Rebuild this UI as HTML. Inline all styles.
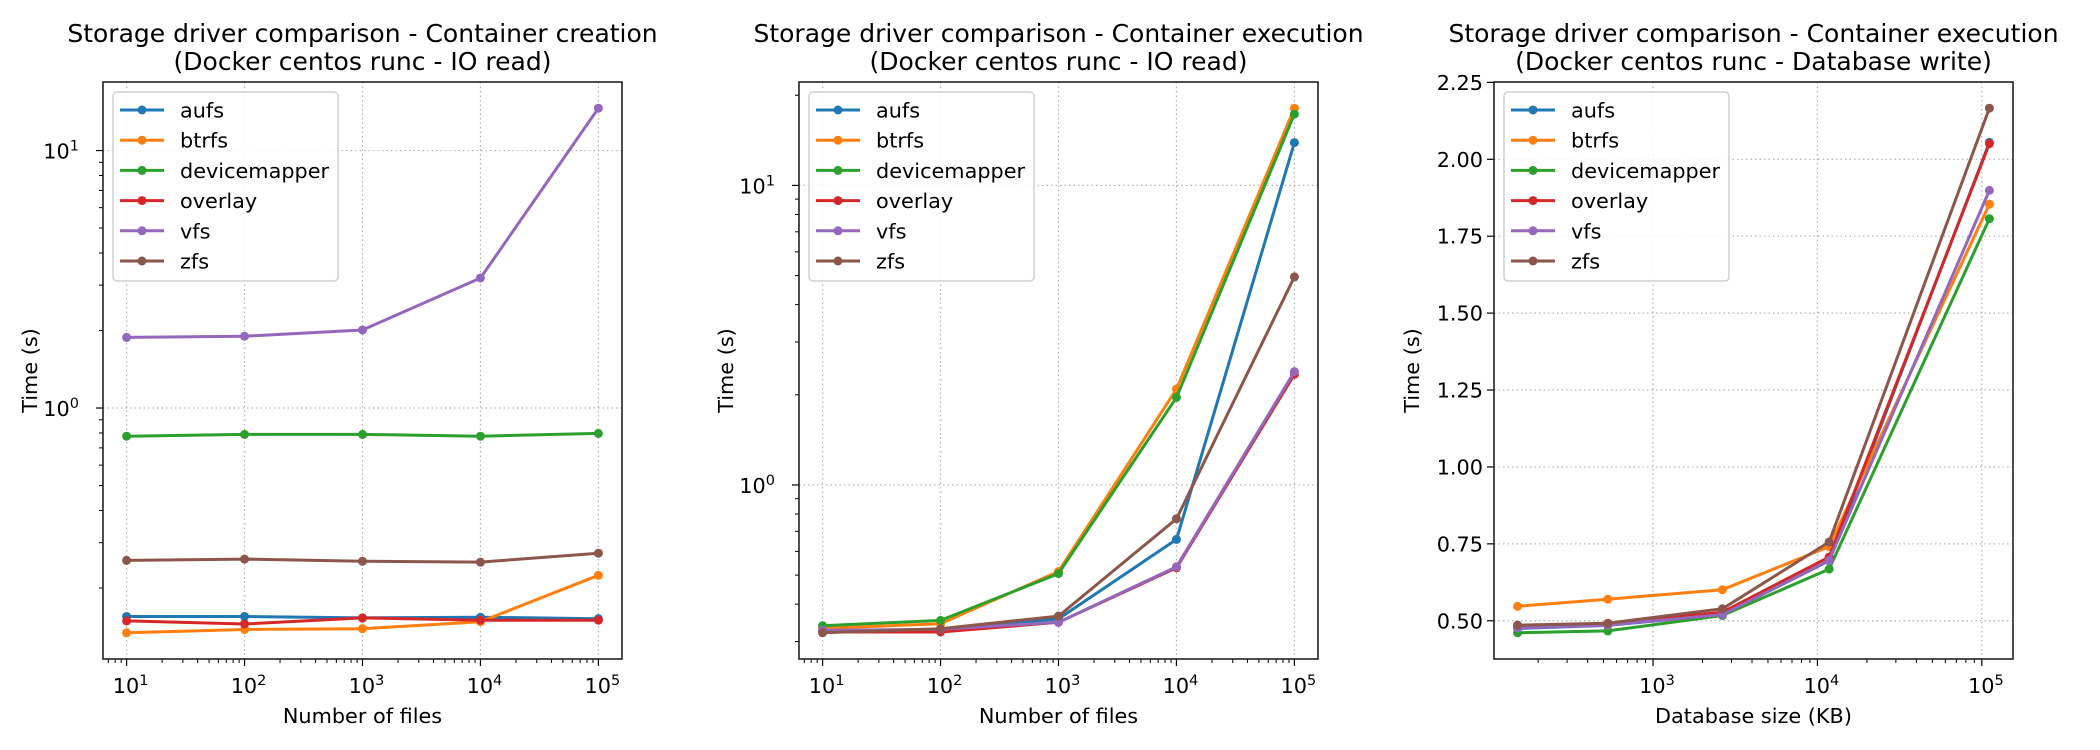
<!DOCTYPE html>
<html><head><meta charset="utf-8">
<style>
html,body{margin:0;padding:0;background:#fff;}
svg{display:block;font-family:"DejaVu Sans","Liberation Sans",sans-serif;}
</style></head>
<body>
<svg id="fig" width="2100" height="750" viewBox="0 0 2100 750" xmlns="http://www.w3.org/2000/svg"></svg>
<script>
const seriesNames = ["aufs","btrfs","devicemapper","overlay","vfs","zfs"];
const seriesColors = ["#1f77b4","#ff7f0e","#2ca02c","#d62728","#9467bd","#8c564b"];

// Panel 1: Container creation (IO read)
const p1X = [10,100,1000,10000,100000];
const p1Aufs = [0.155,0.155,0.153,0.154,0.152];
const p1Btrfs = [0.134,0.138,0.139,0.148,0.224];
const p1Dm = [0.777,0.79,0.79,0.777,0.797];
const p1Overlay = [0.149,0.145,0.153,0.150,0.150];
const p1Vfs = [1.88,1.90,2.01,3.2,14.6];
const p1Zfs = [0.256,0.259,0.254,0.252,0.273];

// Panel 2: Container execution (IO read)
const p2X = [10,100,1000,10000,100000];
const p2Aufs = [0.326,0.328,0.357,0.658,13.9];
const p2Btrfs = [0.332,0.344,0.514,2.09,18.1];
const p2Dm = [0.339,0.353,0.506,1.96,17.3];
const p2Overlay = [0.323,0.323,0.348,0.529,2.34];
const p2Vfs = [0.327,0.330,0.348,0.533,2.39];
const p2Zfs = [0.321,0.331,0.365,0.771,4.95];

// Panel 3: Container execution (Database write)
const p3X = [150,531,2642,11780,111200];
const p3Aufs = [0.475,0.485,0.52,0.695,2.055];
const p3Btrfs = [0.547,0.570,0.601,0.741,1.854];
const p3Dm = [0.461,0.467,0.517,0.668,1.807];
const p3Overlay = [0.483,0.491,0.528,0.707,2.051];
const p3Vfs = [0.477,0.486,0.520,0.696,1.899];
const p3Zfs = [0.486,0.492,0.539,0.756,2.166];

const p3YTicks = ["0.50","0.75","1.00","1.25","1.50","1.75","2.00","2.25"];
const logTickExps = [1,2,3,4,5];

const NS="http://www.w3.org/2000/svg";
const fig=document.getElementById('fig');
function mk(tag,attrs,parent){const e=document.createElementNS(NS,tag);for(const k in attrs)e.setAttribute(k,attrs[k]);(parent||fig).appendChild(e);return e;}

function extent(arrs,log){let mn=Infinity,mx=-Infinity;arrs.forEach(a=>a.forEach(v=>{const t=log?Math.log10(v):v;mn=Math.min(mn,t);mx=Math.max(mx,t);}));const m=(mx-mn)*0.05;return [mn-m,mx+m];}

function supText(g,x,y,base,exp,anchor,name){
  const t=mk('text',{x:x,y:y,'font-size':20.8,'text-anchor':anchor,fill:'#000'},g);
  
  
  t.appendChild(document.createTextNode(base));
  const s=mk('tspan',{dy:-8,'font-size':14.5},t);s.textContent=exp;
  return t;
}

function panel(idx,left,titleA,titleB,xlabel,xs,ys,yLog){
  const top=82,bottom=659,right=left+519,W=519,H=577;
  const g=mk('g',{});
  
  
  const xd=extent([xs],true);
  const yd=extent(ys,yLog);
  if(!yLog){ yd[1]=Math.max(yd[1],2.25); }
  const sx=v=>left+(Math.log10(v)-xd[0])/(xd[1]-xd[0])*W;
  const sy=v=>{const t=yLog?Math.log10(v):v;return bottom-(t-yd[0])/(yd[1]-yd[0])*H;};
  // titles
  const cx=left+W/2;
  const t1=mk('text',{x:cx,y:42,'font-size':25,'text-anchor':'middle'},g);t1.textContent=titleA;
  
  
  const t2=mk('text',{x:cx,y:70,'font-size':25,'text-anchor':'middle'},g);t2.textContent=titleB;
  
  
  // x ticks (major + minor)
  const gx=mk('g',{},g);
  
  
  for(let e=Math.floor(xd[0]);e<=Math.ceil(xd[1]);e++){
    for(let m=1;m<10;m++){
      const v=m*Math.pow(10,e);const lv=Math.log10(v);
      if(lv<xd[0]||lv>xd[1])continue;
      const x=sx(v);
      if(m===1){
        mk('line',{x1:x,y1:top,x2:x,y2:bottom,stroke:'#b0b0b0','stroke-width':1.2,'stroke-dasharray':'1.5,3'},gx);
        mk('line',{x1:x,y1:bottom,x2:x,y2:bottom+7,stroke:'#000','stroke-width':1.2},gx);
        supText(gx,x+4,693,'10',String(e),'middle','x-tick-label');
      } else {
        mk('line',{x1:x,y1:bottom,x2:x,y2:bottom+4,stroke:'#000','stroke-width':1},gx);
      }
    }
  }
  const xl=mk('text',{x:cx,y:723,'font-size':20.8,'text-anchor':'middle'},g);xl.textContent=xlabel;
  
  
  // y ticks
  const gy=mk('g',{},g);
  
  
  if(yLog){
    for(let e=Math.floor(yd[0]);e<=Math.ceil(yd[1]);e++){
      for(let m=1;m<10;m++){
        const v=m*Math.pow(10,e);const lv=Math.log10(v);
        if(lv<yd[0]||lv>yd[1])continue;
        const y=sy(v);
        if(m===1){
          mk('line',{x1:left,y1:y,x2:right,y2:y,stroke:'#b0b0b0','stroke-width':1.2,'stroke-dasharray':'1.5,3'},gy);
          mk('line',{x1:left-7,y1:y,x2:left,y2:y,stroke:'#000','stroke-width':1.2},gy);
          supText(gy,left-24,y+8,'10',String(e),'end','y-tick-label');
          gy.lastChild.lastChild.setAttribute('x',null);
        } else {
          mk('line',{x1:left-4,y1:y,x2:left,y2:y,stroke:'#000','stroke-width':1},gy);
        }
      }
    }
  } else {
    p3YTicks.forEach(lbl=>{
      const v=parseFloat(lbl);const y=sy(v);
      if(y<top-1)return;
      mk('line',{x1:left,y1:y,x2:right,y2:y,stroke:'#b0b0b0','stroke-width':1.2,'stroke-dasharray':'1.5,3'},gy);
      mk('line',{x1:left-7,y1:y,x2:left,y2:y,stroke:'#000','stroke-width':1.2},gy);
      const t=mk('text',{x:left-11,y:y+7.5,'font-size':20.8,'text-anchor':'end'},gy);t.textContent=lbl;
      
      
    });
  }
  const ylx = idx===1?37:(idx===2?733:1419);
  const yl=mk('text',{x:ylx,y:(top+bottom)/2,'font-size':20.8,'text-anchor':'middle',transform:`rotate(-90 ${ylx} ${(top+bottom)/2})`},g);yl.textContent='Time (s)';
  
  
  // series
  ys.forEach((arr,i)=>{
    const sg=mk('g',{},g);
    
    
    const pts=arr.map((v,j)=>sx(xs[j]).toFixed(1)+','+sy(v).toFixed(1)).join(' ');
    mk('polyline',{points:pts,fill:'none',stroke:seriesColors[i],'stroke-width':3,'stroke-linejoin':'round'},sg);
    arr.forEach((v,j)=>{
      const c=mk('circle',{cx:sx(xs[j]),cy:sy(v),r:4.5,fill:seriesColors[i]},sg);
      
      
    });
  });
  // frame
  const fr=mk('rect',{x:left,y:top,width:W,height:H,fill:'none',stroke:'#222','stroke-width':1.6},g);
  
  
  // legend
  const lg=mk('g',{},g);
  
  
  mk('rect',{x:left+10,y:92,width:225,height:189,rx:4,fill:'#fff','fill-opacity':0.85,stroke:'#d0d0d0','stroke-width':1.5},lg);
  seriesNames.forEach((n,i)=>{
    const y=110+i*30.2;
    const e=mk('g',{},lg);
    
    
    mk('line',{x1:left+17,y1:y,x2:left+61,y2:y,stroke:seriesColors[i],'stroke-width':3},e);
    mk('circle',{cx:left+39,cy:y,r:4.5,fill:seriesColors[i]},e);
    const t=mk('text',{x:left+77,y:y+7.5,'font-size':20.8},e);t.textContent=n;
  });
}

panel(1,103,'Storage driver comparison - Container creation','(Docker centos runc - IO read)','Number of files',p1X,[p1Aufs,p1Btrfs,p1Dm,p1Overlay,p1Vfs,p1Zfs],true);
panel(2,799,'Storage driver comparison - Container execution','(Docker centos runc - IO read)','Number of files',p2X,[p2Aufs,p2Btrfs,p2Dm,p2Overlay,p2Vfs,p2Zfs],true);
panel(3,1494,'Storage driver comparison - Container execution','(Docker centos runc - Database write)','Database size (KB)',p3X,[p3Aufs,p3Btrfs,p3Dm,p3Overlay,p3Vfs,p3Zfs],false);
</script>
</body></html>
